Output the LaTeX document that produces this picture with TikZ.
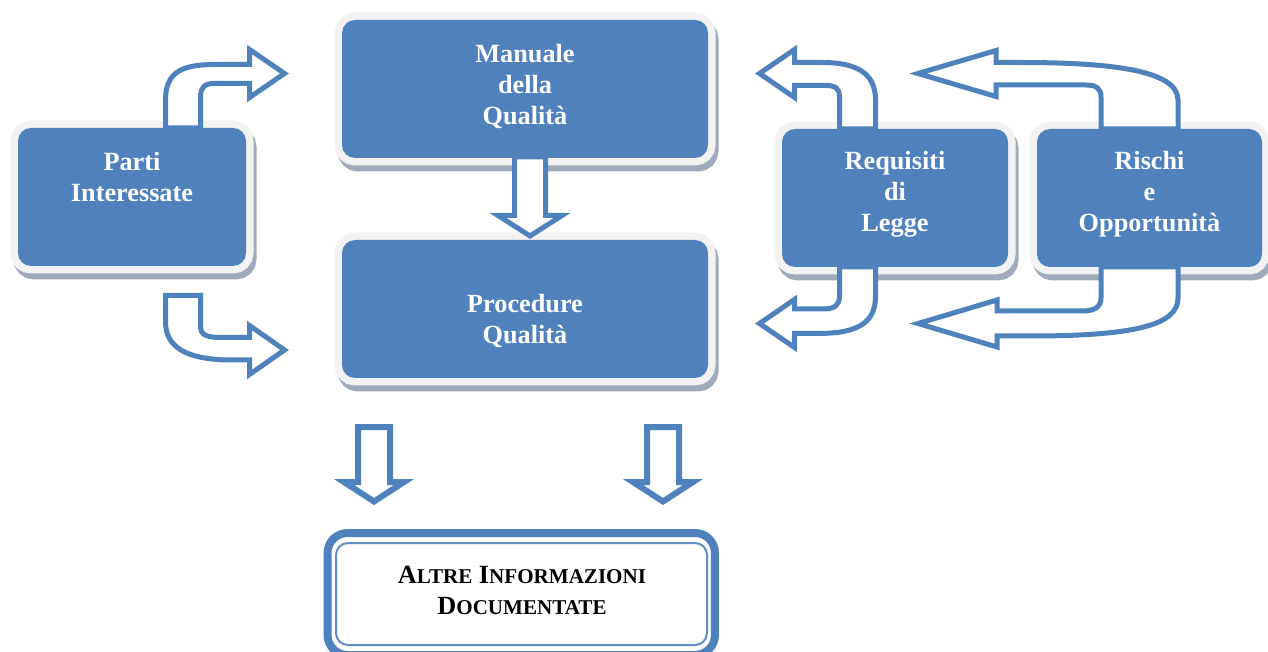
\documentclass[tikz,border=0pt]{standalone}
\usepackage{fontspec}
\setmainfont{Liberation Serif}
\definecolor{panelblue}{HTML}{4F81BD}
\definecolor{rimgray}{HTML}{F2F2F2}
\definecolor{shadowgray}{HTML}{9FAABA}
\definecolor{arrowblue}{HTML}{4F81BD}
% bold serif used inside the blue panels
\newcommand{\panelfont}{\fontsize{19.7}{23.3}\selectfont\bfseries}
% hand-made small capitals: first letter full size, the rest reduced
\newcommand{\capsword}[2]{#1{\fontsize{15.8}{23.3}\selectfont #2}}

\begin{document}
\begin{tikzpicture}[x=0.75pt,y=-0.75pt,
  panel/.style={rectangle, rounded corners=9.75pt, fill=panelblue, inner sep=0,
    preaction={draw=shadowgray, line width=11.25pt,
               transform canvas={shift={(2.25pt,-4.5pt)}}},
    preaction={draw=rimgray, line width=11.25pt}},
  paneltext/.style={text=white, font=\panelfont, align=center, anchor=north, inner sep=0},
  hollow/.style={draw=arrowblue, fill=white, line width=3.75pt, line join=miter},
  hollowwide/.style={hollow, line width=4.5pt},
]
\useasboundingbox (0,0) rectangle (1268,652);

% ---- panels ----
\node[panel, minimum width=171pt, minimum height=103.5pt] (parti) at (132,197) {};
\node[panel, minimum width=274.5pt, minimum height=103.5pt] (manuale) at (525,89) {};
\node[panel, minimum width=274.5pt, minimum height=103.5pt] (procedure) at (525,309) {};
\node[panel, minimum width=169.5pt, minimum height=103.5pt] (requisiti) at (895,198) {};
\node[panel, minimum width=168.75pt, minimum height=103.5pt] (rischi) at (1149.5,198) {};

\node[paneltext] (partiT) at (132,152) {Parti\\Interessate};
\node[paneltext] (manualeT) at (525,44) {Manuale\\della\\Qualità};
\node[paneltext] (procedureT) at (525,294) {Procedure\\Qualità};
\node[paneltext] (requisitiT) at (895,151) {Requisiti\\di\\Legge};
\node[paneltext] (rischiT) at (1149.5,151) {Rischi\\e\\Opportunità};

% ---- framed box at the bottom ----
\node[draw=panelblue, line width=6pt, rounded corners=15pt, fill=white,
      minimum width=290.6pt, minimum height=91.5pt, inner sep=0] (altre) at (521.25,594) {};
\node[draw=panelblue!90!white, line width=1.5pt, rounded corners=9pt,
      minimum width=278.25pt, minimum height=76.5pt, inner sep=0] (altreIn) at (521.5,594) {};
\node[font=\panelfont, align=center, anchor=north, inner sep=0] (altreT) at (522,566)
  {\capsword{A}{LTRE} \capsword{I}{NFORMAZIONI}\\\capsword{D}{OCUMENTATE}};

% ---- hollow block arrows ----
% Parti Interessate up to Manuale
\draw[hollow] (165.5,128) -- (165.5,100) .. controls (165.5,72) and (182,64.5) .. (215,64.5)
  -- (249.5,64.5) -- (249.5,49.5) -- (284.5,73.5) -- (249.5,97.5) -- (249.5,83.5)
  -- (214,83.5) .. controls (204,83.5) and (200.5,88) .. (200.5,97) -- (200.5,128) -- cycle;
% Parti Interessate down to Procedure
\draw[hollow] (165.5,295.5) -- (200.5,295.5) -- (200.5,326) .. controls (200.5,335) and (206,337.5) .. (222,337.5)
  -- (249.5,337.5) -- (249.5,325.5) -- (284.5,350) -- (249.5,374.5) -- (249.5,360)
  -- (232,360) .. controls (188,360) and (165.5,348) .. (165.5,322) -- cycle;
% Requisiti up to Manuale
\draw[hollow] (875.5,129) -- (875.5,100) .. controls (875.5,72) and (855,62.5) .. (822,62.5)
  -- (794.5,62.5) -- (794.5,49.5) -- (759.5,73.5) -- (794.5,97.5) -- (794.5,85.5)
  -- (826,85.5) .. controls (836,85.5) and (839.5,89) .. (839.5,97) -- (839.5,129) -- cycle;
% Requisiti down to Procedure
\draw[hollow] (839.5,267) -- (839.5,296) .. controls (839.5,305) and (835,309) .. (823,309)
  -- (794.5,309) -- (794.5,299.5) -- (759.5,323.5) -- (794.5,347.5) -- (794.5,333.5)
  -- (818,333.5) .. controls (862,333.5) and (875.5,320) .. (875.5,296) -- (875.5,267) -- cycle;
% Rischi up to Manuale
\draw[hollow] (1178,129) -- (1178,100) .. controls (1178,70) and (1110,62.5) .. (1020,62.5)
  -- (996,62.5) -- (996,50.5) -- (918,73.5) -- (996,96.5) -- (996,85)
  -- (1086,85) .. controls (1097,85) and (1101,89) .. (1101,97) -- (1101,129) -- cycle;
% Rischi down to Procedure
\draw[hollow] (1101,267) -- (1101,298) .. controls (1101,306) and (1096,311) .. (1082,311)
  -- (997,311) -- (997,300) -- (918,323.5) -- (997,347) -- (997,336)
  -- (1030,336) .. controls (1135,336) and (1178,325) .. (1178,298) -- (1178,267) -- cycle;
% Manuale down to Procedure
\draw[hollow] (514.5,157) -- (514.5,215.5) -- (498,215.5) -- (530,236) -- (562,215.5)
  -- (545.5,215.5) -- (545.5,157) -- cycle;
% Procedure down to the framed box
\draw[hollowwide] (358,427) -- (390,427) -- (390,482) -- (404,482) -- (374,501.5)
  -- (344,482) -- (358,482) -- cycle;
\draw[hollowwide] (647,427) -- (679,427) -- (679,482) -- (693,482) -- (663,501.5)
  -- (633,482) -- (647,482) -- cycle;
\end{tikzpicture}
\end{document}
